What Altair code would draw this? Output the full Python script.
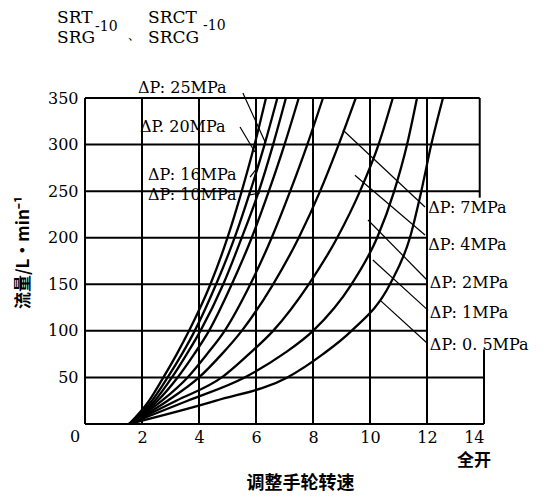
import altair as alt
import pandas as pd

# ---- curve data: x (handwheel turns) at each flow level ----
y_levels = [0, 25, 50, 75, 100, 150, 200, 250, 300, 350]
c25_x = [1.55, 2.25, 2.75, 3.22, 3.65, 4.4, 5.0, 5.5, 5.95, 6.35]
c20_x = [1.55, 2.35, 2.9, 3.4, 3.85, 4.6, 5.25, 5.8, 6.3, 6.75]
c16_x = [1.55, 2.45, 3.05, 3.57, 4.05, 4.85, 5.5, 6.1, 6.6, 7.05]
c10_x = [1.55, 2.55, 3.25, 3.83, 4.35, 5.15, 5.85, 6.45, 7.0, 7.5]
c7_x = [1.55, 2.7, 3.6, 4.28, 4.9, 5.8, 6.55, 7.2, 7.8, 8.35]
c4_x = [1.55, 2.9, 4.0, 4.8, 5.5, 6.6, 7.5, 8.25, 8.9, 9.5]
c2_x = [1.55, 3.2, 4.8, 5.75, 6.6, 7.85, 8.85, 9.65, 10.3, 10.8]
c1_x = [1.55, 3.6, 5.6, 6.95, 8.0, 9.35, 10.25, 10.85, 11.3, 11.65]
c05_x = [1.55, 4.6, 7.1, 8.35, 9.35, 10.7, 11.4, 11.8, 12.15, 12.56]
curve_names = ["25", "20", "16", "10", "7", "4", "2", "1", "0.5"]
curve_lists = [c25_x, c20_x, c16_x, c10_x, c7_x, c4_x, c2_x, c1_x, c05_x]

# ---- grid segments ----
hgrid_y = [0, 50, 100, 150, 200, 250, 300, 350]
hgrid_x0 = [0, 0, 0, 0, 0, 0, 0, 0]
hgrid_x1 = [14, 14, 12, 12, 12, 13.85, 13.85, 13.85]
vgrid_x = [0, 2, 4, 6, 8, 10, 12, 13.85, 14]
vgrid_y0 = [0, 0, 0, 0, 0, 0, 0, 243, 0]
vgrid_y1 = [350, 350, 350, 350, 350, 350, 350, 350, 80]

# ---- labels and leader lines ----
label_text = ["ΔP: 25MPa", "ΔP. 20MPa", "ΔP: 16MPa", "ΔP: 10MPa",
              "ΔP: 7MPa", "ΔP: 4MPa", "ΔP: 2MPa", "ΔP: 1MPa", "ΔP: 0. 5MPa"]
label_x = [1.86, 1.93, 2.21, 2.21, 12.04, 12.04, 12.1, 12.1, 12.1]
label_y = [360.7, 319, 267, 246, 232, 192, 151, 119, 85]
lead_x1 = [5.54, 5.44, 5.79, 5.79, 11.93, 11.93, 12.0, 12.04, 12.0]
lead_y1 = [355.4, 318.9, 265, 246, 233, 203, 154.6, 122, 87]
lead_x2 = [6.32, 5.96, 6.07, 6.14, 9.05, 9.47, 9.93, 10.1, 10.35]
lead_y2 = [302.8, 292, 276, 248, 315.7, 267, 219, 176, 133]

x_ticks = [2, 4, 6, 8, 10, 12, 14]
y_ticks = [50, 100, 150, 200, 250, 300, 350]

# ---- build tables ----
rows = []
for name, xs_ in zip(curve_names, curve_lists):
    for xv, yv in zip(xs_, y_levels):
        rows.append({"curve": name, "x": xv, "y": yv})
df_curves = pd.DataFrame(rows)
df_h = pd.DataFrame({"y": hgrid_y, "x0": hgrid_x0, "x1": hgrid_x1})
df_v = pd.DataFrame({"x": vgrid_x, "y0": vgrid_y0, "y1": vgrid_y1})
df_lead = pd.DataFrame({"x1": lead_x1, "y1": lead_y1, "x2": lead_x2, "y2": lead_y2})
df_lab = pd.DataFrame({"t": label_text, "x": label_x, "y": label_y})

serif = "DejaVu Serif"
cjk = "Noto Sans CJK SC"

xs = alt.Scale(domain=[0, 14], nice=False, zero=False)
ys = alt.Scale(domain=[0, 350], nice=False, zero=False)
x_axis = alt.Axis(values=x_ticks, grid=False, domain=False, ticks=False,
                  labelFont=serif, labelFontSize=16, labelColor="black",
                  labelPadding=5, title="调整手轮转速", titleFont=cjk,
                  titleFontSize=18, titleFontWeight="bold", titleColor="black",
                  titleX=215, titleY=59, titleBaseline="middle", titleAlign="center")
y_axis = alt.Axis(values=y_ticks, grid=False, domain=False, ticks=False,
                  labelFont=serif, labelFontSize=16, labelColor="black",
                  labelPadding=7, title="流量/L·min⁻¹", titleFont=cjk,
                  titleFontSize=17, titleFontWeight="bold", titleColor="black",
                  titleX=-62, titleY=154, titleBaseline="middle", titleAlign="center",
                  titleAngle=270)

grid_h = alt.Chart(df_h).mark_rule(color="black", strokeWidth=2).encode(
    x=alt.X("x0:Q", scale=xs, axis=x_axis), x2="x1:Q",
    y=alt.Y("y:Q", scale=ys, axis=y_axis))
grid_v = alt.Chart(df_v).mark_rule(color="black", strokeWidth=2).encode(
    x=alt.X("x:Q", scale=xs, axis=x_axis),
    y=alt.Y("y0:Q", scale=ys, axis=y_axis), y2="y1:Q")
curves = alt.Chart(df_curves).mark_line(color="black", strokeWidth=2.3,
                                        interpolate="monotone").encode(
    x=alt.X("x:Q", scale=xs, axis=x_axis),
    y=alt.Y("y:Q", scale=ys, axis=y_axis),
    detail="curve:N", order="x:Q")
leaders = alt.Chart(df_lead).mark_rule(color="black", strokeWidth=1.2).encode(
    x=alt.X("x1:Q", scale=xs, axis=x_axis), x2="x2:Q",
    y=alt.Y("y1:Q", scale=ys, axis=y_axis), y2="y2:Q")
labels = alt.Chart(df_lab).mark_text(align="left", baseline="middle", font=serif,
                                     fontSize=16, color="black").encode(
    x=alt.X("x:Q", scale=xs, axis=x_axis),
    y=alt.Y("y:Q", scale=ys, axis=y_axis), text="t:N")

zero_lbl = alt.Chart(pd.DataFrame({"t": ["0"]})).mark_text(
    font=serif, fontSize=16, baseline="top", align="center", dx=-10, dy=5,
    color="black").encode(x=alt.datum(0), y=alt.datum(0), text="t:N")
full_lbl = alt.Chart(pd.DataFrame({"t": ["全开"]})).mark_text(
    font=cjk, fontSize=17, fontWeight="bold", baseline="middle", align="center",
    dx=-10, dy=37, color="black").encode(x=alt.datum(14), y=alt.datum(0), text="t:N")

title_df = pd.DataFrame({
    "t": ["SRT", "SRG", "-10", "、", "SRCT", "SRCG", "-10"],
    "px": [-28, -28, 10, 42, 63, 63, 118],
    "py": [-80, -60, -71, -64, -80, -60, -72],
    "fs": [17, 17, 14, 15, 17, 17, 14],
})
titles = alt.Chart(title_df).mark_text(align="left", baseline="middle",
                                       font=serif, color="black").encode(
    x=alt.X("px:Q", scale=None), y=alt.Y("py:Q", scale=None), text="t:N",
    size=alt.Size("fs:Q", scale=None, legend=None))

chart = alt.layer(grid_h, grid_v, curves, leaders, labels, zero_lbl, full_lbl,
                  titles).properties(
    width=399, height=326,
    padding={"left": 77, "top": 90, "right": 53, "bottom": 69},
    autosize=alt.AutoSizeParams(type="none"),
).configure_view(stroke=None)

chart.save("out.html", embed_options={"renderer": "svg", "actions": False})
